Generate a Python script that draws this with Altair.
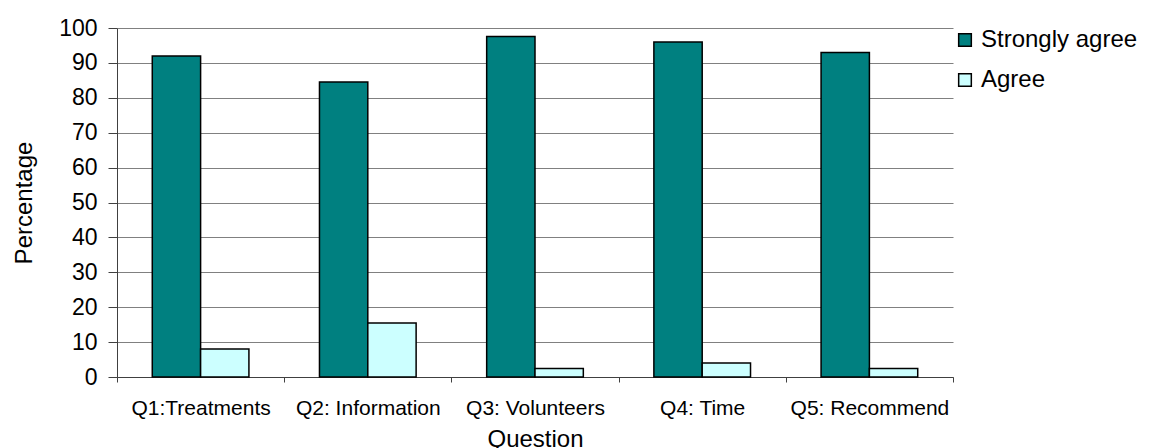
import altair as alt
import pandas as pd

categories = ["Q1:Treatments", "Q2: Information", "Q3: Volunteers", "Q4: Time", "Q5: Recommend"]
series = ["Strongly agree", "Agree"]
strongly_agree = [92, 84.5, 97.6, 96, 93]
agree = [8, 15.5, 2.4, 4, 2.4]
y_ticks = [0, 10, 20, 30, 40, 50, 60, 70, 80, 90, 100]
colors = ["#008080", "#CCFFFF"]

rows = []
for i, c in enumerate(categories):
    rows.append({"Question": c, "Response": series[0], "Percentage": strongly_agree[i]})
    rows.append({"Question": c, "Response": series[1], "Percentage": agree[i]})
df = pd.DataFrame(rows)

FONT = "Liberation Sans"

chart = alt.Chart(df).mark_bar(stroke="black", strokeWidth=1.5).encode(
    x=alt.X("Question:N", sort=categories,
            scale=alt.Scale(paddingInner=0, paddingOuter=0),
            axis=alt.Axis(title="Question", labelAngle=0, tickBand="extent",
                          tickSize=5, labelPadding=15, titlePadding=9,
                          domainColor="#404040", tickColor="#404040",
                          labelFontSize=21, titleFontSize=24, labelFont=FONT, titleFont=FONT,
                          labelColor="black", titleColor="black", titleFontWeight="normal",
                          grid=False)),
    xOffset=alt.XOffset("Response:N", sort=series,
                        scale=alt.Scale(paddingInner=0, paddingOuter=0.73)),
    y=alt.Y("Percentage:Q", scale=alt.Scale(domain=[0, 100], nice=False),
            axis=alt.Axis(title="Percentage", values=y_ticks, tickSize=9, labelPadding=11,
                          titlePadding=22, domainColor="#404040", tickColor="#404040",
                          gridColor="#808080", gridWidth=1,
                          labelFontSize=23, titleFontSize=24, labelFont=FONT, titleFont=FONT,
                          labelColor="black", titleColor="black", titleFontWeight="normal")),
    color=alt.Color("Response:N", sort=series,
                    scale=alt.Scale(domain=series, range=colors),
                    legend=alt.Legend(title=None, orient="none", legendX=836, legendY=0,
                                      symbolType="square", symbolSize=160,
                                      symbolStrokeColor="black", symbolStrokeWidth=1.5,
                                      labelFontSize=24, labelFont=FONT, labelColor="black",
                                      rowPadding=16, labelOffset=4)),
).properties(
    width=836, height=349,
    autosize=alt.AutoSizeParams(type="none"),
    padding={"left": 117, "top": 28, "right": 206, "bottom": 71},
).configure_view(stroke=None)

chart.save("out.html", embed_options={"renderer": "svg", "actions": False})
